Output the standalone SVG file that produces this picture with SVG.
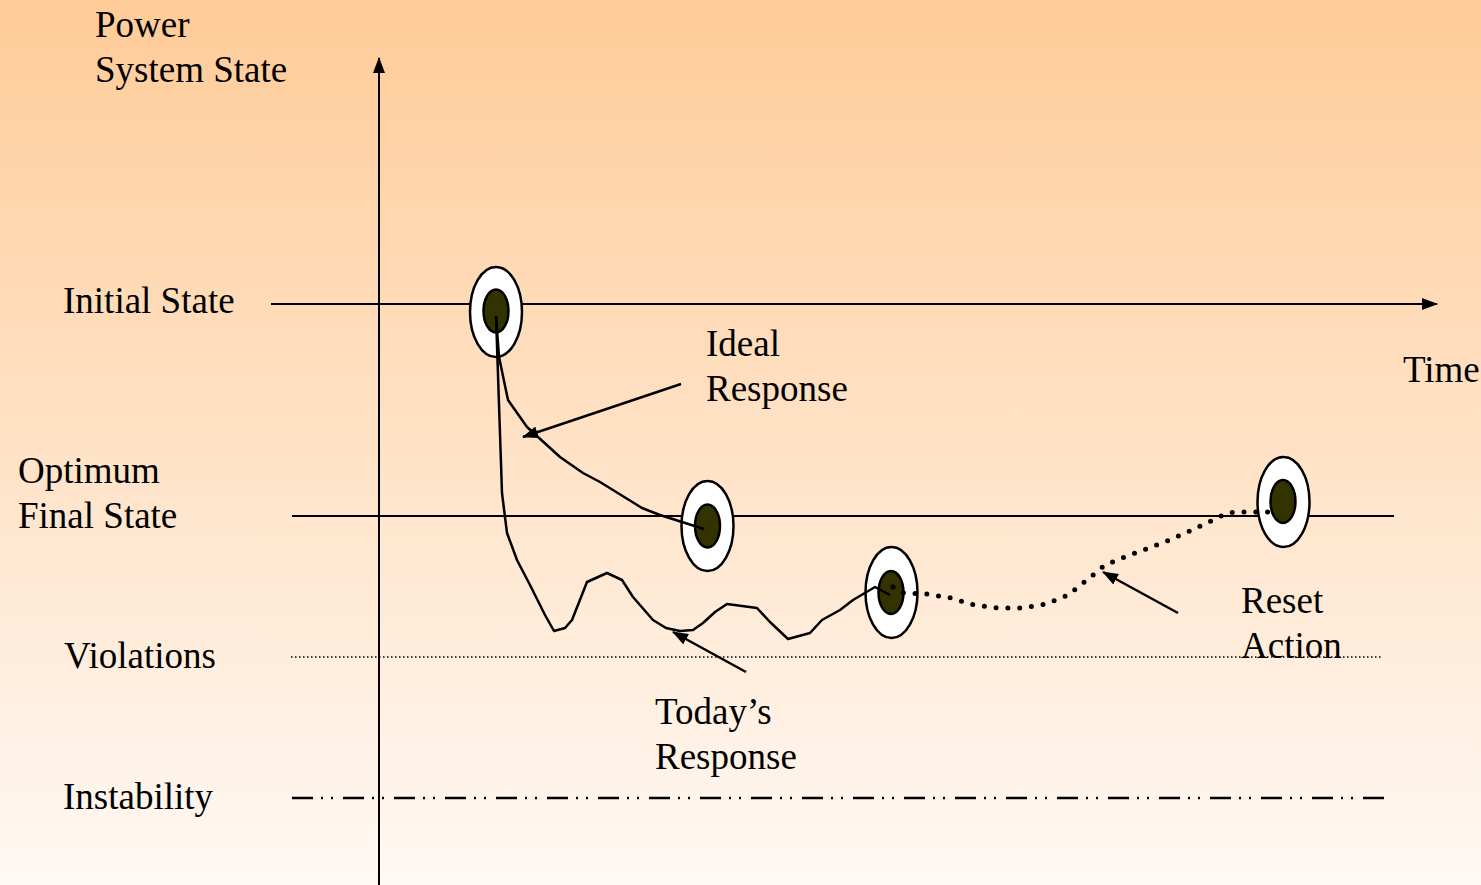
<svg xmlns="http://www.w3.org/2000/svg" width="1481" height="885" viewBox="0 0 1481 885">
<defs>
<linearGradient id="bg" x1="0" y1="0" x2="0" y2="1">
<stop offset="0" stop-color="#FFCB98"/>
<stop offset="1" stop-color="#FFF9F4"/>
</linearGradient>
<marker id="arr" viewBox="0 0 16 12" refX="15" refY="6" markerWidth="16" markerHeight="12" markerUnits="userSpaceOnUse" orient="auto">
<path d="M0,0 L16,6 L0,12 Z" fill="#000"/>
</marker>
</defs>
<style>
.t{font-family:"Liberation Serif","Times New Roman",serif;font-size:37px;fill:#000}
.ln{stroke:#000;stroke-width:2;fill:none}
.cv{stroke:#000;stroke-width:2.5;fill:none;stroke-linejoin:round}
.outer{fill:#fff;stroke:#000;stroke-width:2.5}
.inner{fill:#333300;stroke:#000;stroke-width:2.5}
</style>
<rect width="1481" height="885" fill="url(#bg)"/>
<g id="labels">
<text class="t" x="95" y="37">Power</text>
<text class="t" x="95" y="82">System State</text>
<text class="t" x="63" y="313">Initial State</text>
<text class="t" x="1403" y="382">Time</text>
<text class="t" x="18" y="483">Optimum</text>
<text class="t" x="18" y="528">Final State</text>
<text class="t" x="64" y="668">Violations</text>
<text class="t" x="63" y="809">Instability</text>
<text class="t" x="706" y="356">Ideal</text>
<text class="t" x="706" y="401">Response</text>
<text class="t" x="655" y="724">Today’s</text>
<text class="t" x="655" y="769">Response</text>
<text class="t" x="1241" y="613">Reset</text>
<text class="t" x="1241" y="658">Action</text>
</g>
<g id="axes">
<line class="ln" x1="379" y1="885" x2="379" y2="58" marker-end="url(#arr)"/>
<line class="ln" x1="271" y1="304" x2="1437" y2="304" marker-end="url(#arr)"/>
<line class="ln" x1="292" y1="516" x2="1394" y2="516"/>
<line x1="291" y1="657" x2="1383" y2="657" stroke="#000" stroke-width="1.5" stroke-dasharray="1.5 2.5"/>
<line x1="292" y1="798" x2="1390" y2="798" stroke="#000" stroke-width="2.5" stroke-dasharray="21 8 2 8 2 10"/>
</g>
<g id="node-initial">
<ellipse class="outer" cx="496" cy="312" rx="26" ry="45"/>
<ellipse class="inner" cx="496" cy="311" rx="12.5" ry="21.5"/>
</g>
<g id="node-ideal-final">
<ellipse class="outer" cx="707.5" cy="526" rx="26" ry="45"/>
<ellipse class="inner" cx="707.5" cy="526" rx="12.5" ry="21.5"/>
</g>
<g id="node-today">
<ellipse class="outer" cx="891.5" cy="592.5" rx="26" ry="45.5"/>
<ellipse class="inner" cx="891" cy="592.5" rx="12.5" ry="21.5"/>
</g>
<g id="node-reset">
<ellipse class="outer" cx="1283.5" cy="502" rx="26" ry="45"/>
<ellipse class="inner" cx="1283" cy="501.5" rx="12.5" ry="21.5"/>
</g>
<g id="connectors">
<path id="ideal-curve" class="cv" d="M496,316 L499,357 L508,400 L527,427 L538,437 L560,457 L583,473 L600,482 L642,508 L660,515 L704,529"/>
<path id="today-curve" class="cv" d="M496,316 L502,493 L507,533 L517,560 L530,585 L545,615 L554,631 L565,628 L572,620 L587,582 L607,573 L622,580 L633,597 L653,620 L666,628 L680,631 L693,630 L703,623 L715,612 L727,604 L757,608 L770,622 L788,639 L810,633 L822,620 L840,610 L853,600 L875,587 L890,595"/>
<path id="reset-curve" d="M893,587 L904,593 L927,594 L951,598 L974,605 L998,608 L1022,608 L1046,604 L1068,595 L1087,580 L1105,565 L1127,556 L1149,548 L1172,539 L1194,529 L1215,519 L1227,513 L1238,512 L1274,512" fill="none" stroke="#000" stroke-width="5" stroke-linecap="round" stroke-dasharray="0 11.8"/>
<line id="ideal-arrow" class="cv" x1="681" y1="384" x2="523" y2="437" marker-end="url(#arr)"/>
<line id="today-arrow" class="cv" x1="746" y1="672" x2="673" y2="632" marker-end="url(#arr)"/>
<line id="reset-arrow" class="cv" x1="1178" y1="613" x2="1103" y2="572" marker-end="url(#arr)"/>
</g>
</svg>
